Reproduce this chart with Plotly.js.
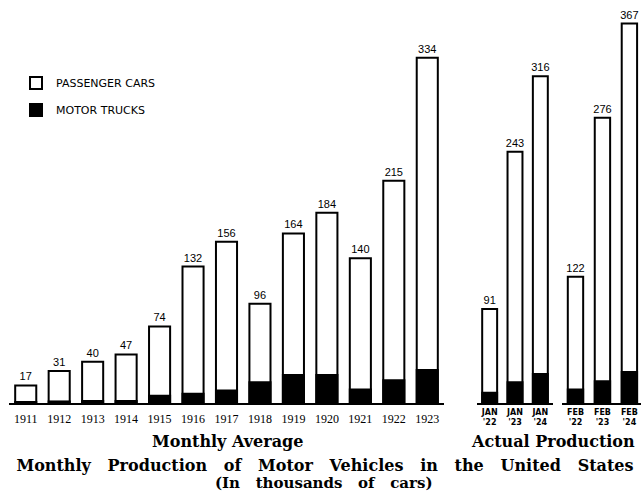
<!DOCTYPE html>
<html>
<head>
<meta charset="utf-8">
<script src="https://cdn.plot.ly/plotly-3.0.1.min.js"></script>
<style>html,body{margin:0;padding:0;background:#fff;}#chart{width:641px;height:503px;}</style>
</head>
<body>
<div id="chart"></div>
<script>
// Monthly average (thousands of vehicles)
const years = ["1911","1912","1913","1914","1915","1916","1917","1918","1919","1920","1921","1922","1923"];
const yearTotals = [17, 31, 40, 47, 74, 132, 156, 96, 164, 184, 140, 215, 334];
const yearTrucks = [1, 1.5, 2, 2, 7, 9, 12, 20, 27, 27, 13, 22, 32];

// Actual production, January
const janLabels = ["JAN<br>'22", "JAN<br>'23", "JAN<br>'24"];
const janTotals = [91, 243, 316];
const janTrucks = [10, 20, 28];

// Actual production, February
const febLabels = ["FEB<br>'22", "FEB<br>'23", "FEB<br>'24"];
const febTotals = [122, 276, 367];
const febTrucks = [13, 21, 30];

const titleWords = ["Monthly", "Production", "of", "Motor", "Vehicles", "in", "the", "United", "States"];
const subtitleWords = ["(In", "thousands", "of", "cars)"];

const W = 641;
const lineStyle = {color: '#000', width: 2};
const labelFont = {family: 'Liberation Sans, sans-serif', size: 11, color: '#000'};

function totalTrace(x, y, xa, width, showLegend) {
  return {
    type: 'bar', x: x, y: y, xaxis: xa, yaxis: 'y',
    name: 'PASSENGER CARS', legendgroup: 'pc', showlegend: showLegend,
    width: width,
    marker: {color: '#fff', line: lineStyle},
    text: y.map(String), textposition: 'outside', textfont: labelFont,
    constraintext: 'none', cliponaxis: false, hoverinfo: 'x+y'
  };
}
function truckTrace(x, y, xa, width, showLegend) {
  return {
    type: 'bar', x: x, y: y, xaxis: xa, yaxis: 'y',
    name: 'MOTOR TRUCKS', legendgroup: 'mt', showlegend: showLegend,
    width: width,
    marker: {color: '#000', line: lineStyle},
    hoverinfo: 'x+y'
  };
}

const data = [
  totalTrace(years, yearTotals, 'x', 0.63, true),
  truckTrace(years, yearTrucks, 'x', 0.63, true),
  totalTrace(janLabels, janTotals, 'x2', 0.59, false),
  truckTrace(janLabels, janTrucks, 'x2', 0.59, false),
  totalTrace(febLabels, febTotals, 'x3', 0.57, false),
  truckTrace(febLabels, febTrucks, 'x3', 0.57, false)
];

const axisCommon = {
  type: 'category', showgrid: false, zeroline: false,
  showline: true, linecolor: '#000', linewidth: 2,
  ticks: '', fixedrange: true, anchor: 'y'
};

const titleFont = {family: 'DejaVu Serif, serif', size: 15, color: '#000', weight: 'bold'};

const layout = {
  width: 641, height: 503,
  margin: {l: 0, r: 0, t: 0, b: 100},
  paper_bgcolor: '#fff', plot_bgcolor: '#fff',
  barmode: 'overlay',
  showlegend: true,
  legend: {
    x: 16 / W, y: 0.83, xanchor: 'left', yanchor: 'top',
    font: {family: 'DejaVu Sans, sans-serif', size: 11, color: '#000'},
    traceorder: 'grouped', tracegroupgap: 8,
    bgcolor: 'rgba(0,0,0,0)'
  },
  title: {
    text: titleWords.join('\u00a0'.repeat(3)),
    font: Object.assign({}, titleFont, {size: 16}),
    x: 325 / W, xanchor: 'center', xref: 'paper',
    y: 1 - 465 / 503, yanchor: 'middle', yref: 'container'
  },
  xaxis: Object.assign({}, axisCommon, {
    domain: [9 / W, 444 / W], range: [-0.5, 12.5], ticklabelstandoff: 4,
    tickfont: {family: 'Liberation Serif, serif', size: 12, color: '#000'}
  }),
  xaxis2: Object.assign({}, axisCommon, {
    domain: [477 / W, 553 / W], range: [-0.5, 2.5],
    tickfont: {family: 'DejaVu Sans, sans-serif', size: 8, color: '#000', weight: 'bold'}
  }),
  xaxis3: Object.assign({}, axisCommon, {
    domain: [562 / W, 1], range: [-0.5, 2.43],
    tickfont: {family: 'DejaVu Sans, sans-serif', size: 8, color: '#000', weight: 'bold'}
  }),
  yaxis: {
    domain: [0, 1], range: [0, 389.8], visible: false, fixedrange: true
  },
  annotations: [
    {text: 'Monthly Average', xref: 'paper', yref: 'paper', x: 227 / W, y: (403 - 442) / 403,
     xanchor: 'center', yanchor: 'middle', showarrow: false, font: Object.assign({}, titleFont, {size: 16})},
    {text: 'Actual Production', xref: 'paper', yref: 'paper', x: 553 / W, y: (403 - 442) / 403,
     xanchor: 'center', yanchor: 'middle', showarrow: false, font: Object.assign({}, titleFont, {size: 16})},
    {text: subtitleWords.join('\u00a0'.repeat(3)), xref: 'paper', yref: 'paper', x: 324 / W, y: (403 - 483) / 403,
     xanchor: 'center', yanchor: 'middle', showarrow: false, font: titleFont}
  ]
};

Plotly.newPlot('chart', data, layout, {displayModeBar: false, staticPlot: true});
</script>
</body>
</html>
